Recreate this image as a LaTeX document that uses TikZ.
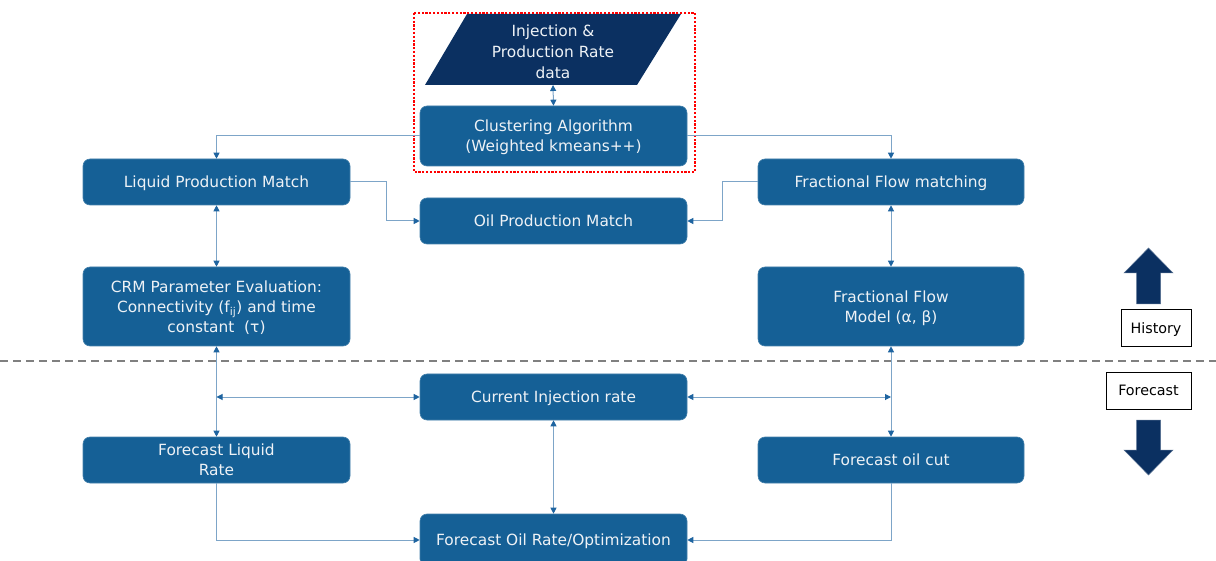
\documentclass[tikz,border=0pt]{standalone}
\usepackage{fontspec}
\setmainfont{DejaVu Sans}
\usetikzlibrary{arrows.meta}
\definecolor{boxblue}{RGB}{21,96,150}
\definecolor{navy}{RGB}{11,48,97}
\definecolor{linec}{RGB}{125,165,200}
\definecolor{tipc}{RGB}{30,100,160}
\definecolor{txt}{RGB}{238,242,246}
\tikzset{
  box/.style={draw=boxblue!80!white, line width=0.6pt, fill=boxblue, rounded corners=7pt, text=txt, align=center,
    font=\fontsize{15.4}{20}\selectfont, inner sep=1pt, text depth=0pt},
  conn/.style={draw=linec, line width=1pt, -{Triangle[length=6pt,width=6pt,color=tipc]}},
  dconn/.style={draw=linec, line width=1pt, {Triangle[length=6pt,width=6pt,color=tipc]}-{Triangle[length=6pt,width=6pt,color=tipc]}},
  legend/.style={draw=black, line width=0.8pt, fill=white, font=\fontsize{14.3}{17}\selectfont, inner sep=0pt, text depth=0pt},
  bigarrow/.style={fill=navy, draw=navy!70!white, line width=0.5pt}
}
\begin{document}
\begin{tikzpicture}[x=1pt,y=-1pt]
\useasboundingbox (0,0) rectangle (1216,561);
% dashed separator
\draw[gray, line width=1.6pt, dash pattern=on 8pt off 5pt] (0,361) -- (1216,361);
% parallelogram
\fill[navy] (425,85) -- (467,14) -- (681,14) -- (637,85) -- cycle;
\node[text=txt, align=center, font=\fontsize{15.4}{21}\selectfont, minimum width=170pt, minimum height=67pt, inner sep=0pt, text depth=0pt] (data) at (553,51.5) {Injection \&\\Production Rate\\data};
\coordinate (datab) at (553,85);
% boxes
\node[box, minimum width=267pt, minimum height=60pt] (clus) at (553.5,136) {Clustering Algorithm\\(Weighted kmeans++)};
\node[box, minimum width=267pt, minimum height=46pt] (lpm) at (216.5,182) {Liquid Production Match};
\node[box, minimum width=267pt, minimum height=46pt] (opm) at (553.5,221) {Oil Production Match};
\node[box, minimum width=266pt, minimum height=46pt] (ffm) at (891,182) {Fractional Flow matching};
\node[box, minimum width=267pt, minimum height=79pt] (crm) at (216.5,306.5) {CRM Parameter Evaluation:\\Connectivity (f$_{\mathrm{ij}}$) and time\\constant\ \ (τ)};
\node[box, minimum width=266pt, minimum height=79pt] (ffmod) at (891,306.5) {Fractional Flow\\Model (α, β)};
\node[box, minimum width=267pt, minimum height=46pt] (cir) at (553.5,397) {Current Injection rate};
\node[box, minimum width=267pt, minimum height=46pt] (flr) at (216.5,460) {Forecast Liquid\\Rate};
\node[box, minimum width=266pt, minimum height=46pt] (foc) at (891,460) {Forecast oil cut};
\node[box, minimum width=267pt, minimum height=52pt] (for) at (553.5,540) {Forecast Oil Rate/Optimization};
% red dotted frame
\draw[red, line width=2.4pt, dash pattern=on 2.2pt off 1.6pt] (414,13) rectangle (695,172);
% connectors
\draw[dconn] (datab) -- (clus.north);
\draw[conn] (clus.west) -| (lpm.north);
\draw[conn] (clus.east) -| (ffm.north);
\coordinate (lbend) at (386,221);
\coordinate (rbend) at (722,221);
\draw[conn] (lpm.east) -| (lbend) -- (opm.west);
\draw[conn] (ffm.west) -| (rbend) -- (opm.east);
\draw[dconn] (lpm.south) -- (crm.north);
\draw[dconn] (ffm.south) -- (ffmod.north);
\draw[dconn] (crm.south) -- (flr.north);
\draw[dconn] (ffmod.south) -- (foc.north);
\coordinate (lmid) at (216.5,397);
\coordinate (rmid) at (891,397);
\draw[dconn] (lmid) -- (cir.west);
\draw[dconn] (rmid) -- (cir.east);
\draw[dconn] (cir.south) -- (for.north);
\draw[conn] (flr.south) |- (for.west);
\draw[conn] (foc.south) |- (for.east);
% legend
\node[legend, minimum width=70pt, minimum height=37pt] (hist) at (1156,328) {History};
\node[legend, minimum width=85pt, minimum height=37pt] (fore) at (1148.5,390.5) {Forecast};
\draw[bigarrow] (1148.5,248) -- (1173,273) -- (1160.5,273) -- (1160.5,304) -- (1136.5,304) -- (1136.5,273) -- (1124,273) -- cycle;
\draw[bigarrow] (1148.5,475) -- (1173,450) -- (1160.5,450) -- (1160.5,420) -- (1136.5,420) -- (1136.5,450) -- (1124,450) -- cycle;
\end{tikzpicture}
\end{document}
